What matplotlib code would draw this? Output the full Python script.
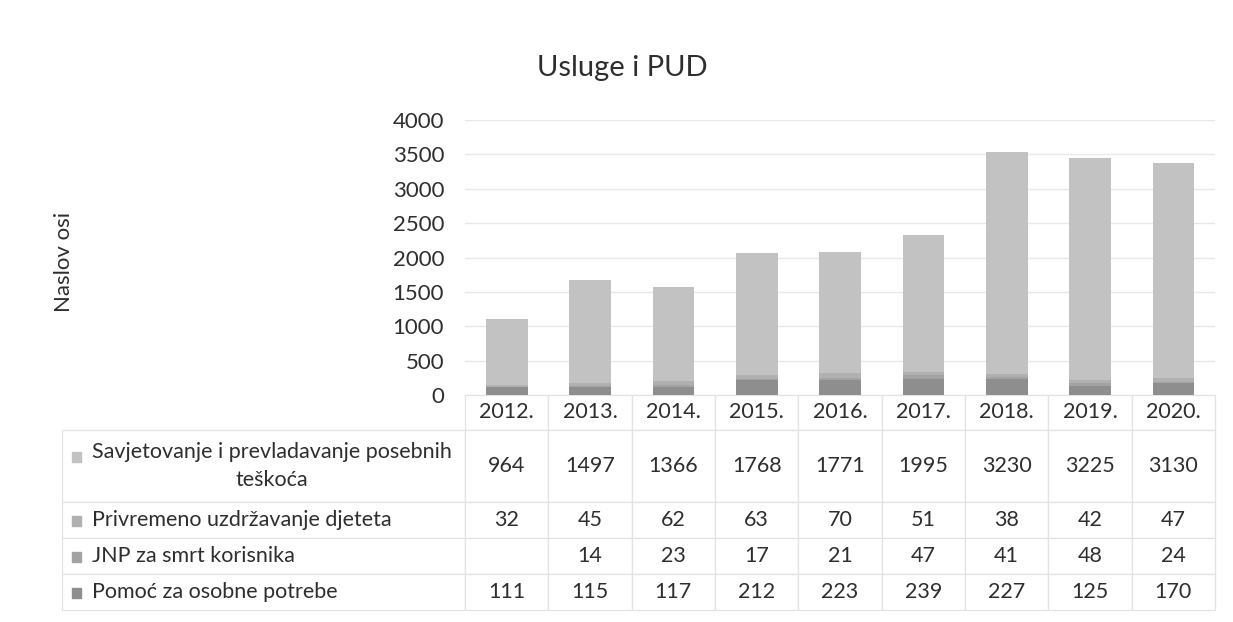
import numpy as np
import matplotlib.pyplot as plt
from matplotlib.patches import Rectangle

plt.rcParams['font.family'] = ['Lato', 'DejaVu Sans']

years = ['2012.', '2013.', '2014.', '2015.', '2016.', '2017.', '2018.', '2019.', '2020.']
series_names = ['Savjetovanje i prevladavanje posebnih\nteškoća',
                'Privremeno uzdržavanje djeteta',
                'JNP za smrt korisnika',
                'Pomoć za osobne potrebe']
savjetovanje = [964, 1497, 1366, 1768, 1771, 1995, 3230, 3225, 3130]
privremeno = [32, 45, 62, 63, 70, 51, 38, 42, 47]
jnp = [None, 14, 23, 17, 21, 47, 41, 48, 24]
pomoc = [111, 115, 117, 212, 223, 239, 227, 125, 170]
colors = ['#c2c2c2', '#b0b0b0', '#a2a2a2', '#8e8e8e']
text_col = '#2e2e2e'

fig = plt.figure(figsize=(12.33, 6.22), dpi=100)
ax = fig.add_axes([465/1233, 227/622, 750/1233, 275/622])

x = np.arange(len(years))
stack = [pomoc, jnp, privremeno, savjetovanje]
stack_cols = [colors[3], colors[2], colors[1], colors[0]]
bottom = np.zeros(len(years))
for vals, c in zip(stack, stack_cols):
    v = np.array([0 if s is None else s for s in vals], dtype=float)
    ax.bar(x, v, width=0.5, bottom=bottom, color=c, zorder=2)
    bottom += v

ax.set_xlim(-0.5, len(years) - 0.5)
ax.set_ylim(0, 4000)
ax.set_yticks(np.arange(0, 4001, 500))
ax.set_xticks([])
ax.tick_params(axis='y', length=0, pad=15, labelsize=16, labelcolor=text_col)
ax.grid(axis='y', color='#e8e8e8', linewidth=1, zorder=0)
for s in ax.spines.values():
    s.set_visible(False)

# data table below the plot
series_vals = [savjetovanje, privremeno, jnp, pomoc]
cell_text = [[name] + ['' if v is None else str(v) for v in vals]
             for name, vals in zip(series_names, series_vals)]
label_w = 403
col_w = 750 / len(years)
total_w = label_w + col_w * len(years)
tbl = ax.table(cellText=cell_text, colLabels=[''] + years,
               colWidths=[label_w / total_w] + [col_w / total_w] * len(years),
               cellLoc='center',
               bbox=[-label_w / 750, -215 / 275, total_w / 750, 215 / 275])
tbl.auto_set_font_size(False)
row_h = [35, 72, 36, 36, 36]
for (r, c), cell in tbl.get_celld().items():
    cell.set_edgecolor('#e3e3e3')
    cell.set_linewidth(0.9)
    cell.set_height(row_h[r])
    cell.get_text().set_fontsize(15.5)
    cell.get_text().set_color(text_col)
    if r == 0 and c == 0:
        cell.visible_edges = ''
    if c == 0 and r > 0:
        cell.set_text_props(ha='left', multialignment='center', linespacing=1.45)
        cell._loc = 'left'
        cell.PAD = 0.075

# legend keys in the label column
key_y = [457, 521, 557, 593]
for yy, c in zip(key_y, colors):
    ax.add_patch(Rectangle(((72 - 465) / 750, (395 - yy - 5) / 275), 9 / 750, 10 / 275,
                           transform=ax.transAxes, color=c, clip_on=False))

fig.text(0.5 + 6 / 1233, 1 - 68 / 622, 'Usluge i PUD', ha='center', va='center',
         fontsize=21, color=text_col)
fig.text(64 / 1233, 1 - 262 / 622, 'Naslov osi', rotation=90, ha='center', va='center',
         fontsize=16, color=text_col)

fig.savefig('out.png', dpi=100)
